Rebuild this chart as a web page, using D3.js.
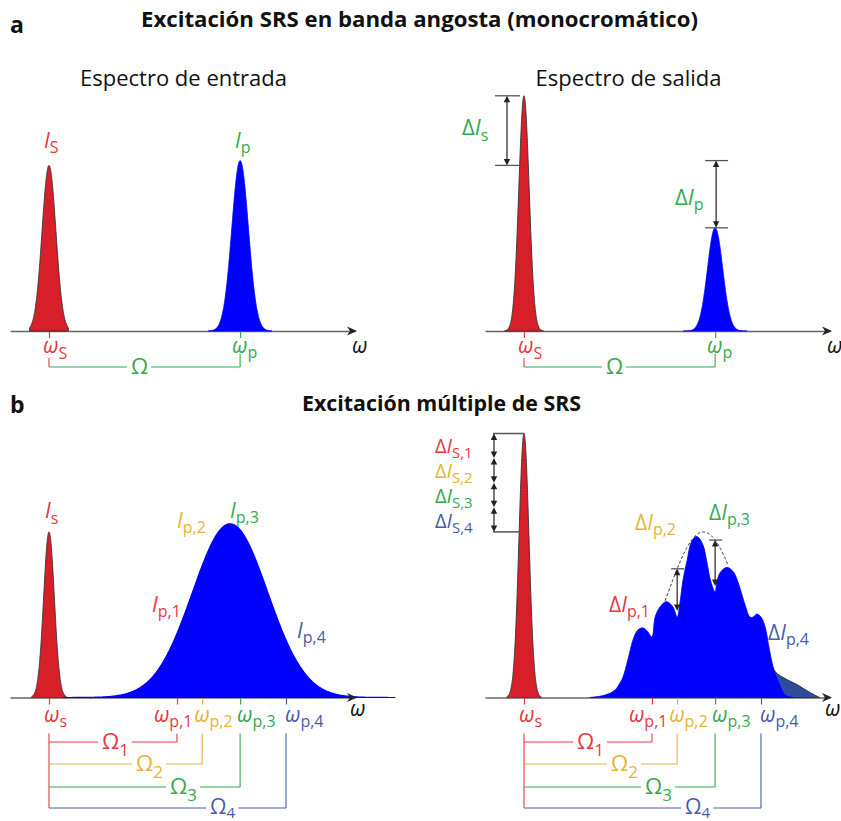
<!DOCTYPE html>
<html>
<head>
<meta charset="utf-8">
<script src="https://cdn.jsdelivr.net/npm/d3@7"></script>
<style>
  html, body { margin: 0; padding: 0; background: #fff; }
  svg { display: block; }
</style>
</head>
<body>
<svg id="fig" width="841" height="821"></svg>
<script>
// ---------------- data: frequency ω and intensity I in arbitrary units ----------------
// (a) narrowband, monochromatic excitation
const singleCenters       = [11.3, 66.7];   // ω_S, ω_p
const singleInputHeights  = [0.69, 0.71];   // I_S, I_p entering
const singleOutputHeights = [0.98, 0.43];   // I_S, I_p leaving
const singleInputWidths   = [2.0, 2.4];
const singleOutputWidths  = [1.5, 2.2];

// (b) multiple excitation by a broadband pump
const stokesOmega        = 11.3;
const multiStokesHeights = [0.69, 1.10];    // I_s entering, leaving
const multiStokesWidths  = [1.55, 1.45];
const pumpOmegas   = [48.4, 55.7, 66.7, 80.0];
const pumpSubs     = ["p,1", "p,2", "p,3", "p,4"];
const stokesSubs   = ["S,1", "S,2", "S,3", "S,4"];
const omegaSubs    = ["1", "2", "3", "4"];
const pumpBand     = [63.8, 0.724, 10.9];   // centre, peak, width of the broadband pump
const pumpEnvelope = [63.3, 0.69, 10.7];    // undepleted envelope (dashed)
const envelopeSpan = [52.2, 70.4];

// depleted pump spectrum leaving the sample
const depletedOmega = [30.4, 34.8, 37.7, 39.1, 40.0, 41.4, 42.9, 44.3, 45.8, 47.0, 48.4,
                       49.3, 50.7, 52.2, 53.0, 54.5, 55.7,
                       56.5, 57.4, 58.6, 59.7, 60.9, 61.7, 63.2, 64.3, 65.5, 66.7,
                       67.2, 68.1, 69.6, 70.7, 72.2, 73.6, 75.4, 76.8,
                       77.7, 78.8, 80.0, 81.2, 82.3, 83.5, 84.6, 85.8, 87.0, 89.3];
const depletedI     = [0, 0.010, 0.031, 0.060, 0.085, 0.156, 0.240, 0.281, 0.290, 0.277, 0.252,
                       0.335, 0.377, 0.398, 0.398, 0.377, 0.335,
                       0.394, 0.490, 0.573, 0.644, 0.669, 0.669, 0.635, 0.565, 0.481, 0.440,
                       0.481, 0.519, 0.540, 0.540, 0.519, 0.469, 0.385, 0.335,
                       0.335, 0.348, 0.335, 0.294, 0.210, 0.127, 0.081, 0.040, 0.010, 0];
// residual high-frequency wing of the pump
const residualOmega = [80.0, 82.5, 84.1, 87.5, 90.4, 94.2, 97.0];
const residualI     = [0.25, 0.16, 0.108, 0.075, 0.054, 0.021, 0];

// ---------------- styling ----------------
const FONT = "'Open Sans', 'Noto Sans', sans-serif";
const RED = "#e8363e", YELLOW = "#e6b335", GREEN = "#34a94c", BLUE = "#4a5aa8";
const pumpColors = [RED, YELLOW, GREEN, BLUE];
const STOKES_FILL = "#d61f29", PUMP_FILL = "#0000ff", WING_FILL = "#2f4b9b";
const INK = "#222";

const svg = d3.select("#fig");

function panelScales(x0, base) {
  return {
    x: d3.scaleLinear().domain([0, 100]).range([x0, x0 + 345]),
    y: d3.scaleLinear().domain([0, 1]).range([base, base - 240])
  };
}
const A1 = panelScales(10, 331), A2 = panelScales(485, 331);
const B1 = panelScales(10, 697.5), B2 = panelScales(485, 697.5);

const gauss = (c, h, s) => w => h * Math.exp(-((w - c) ** 2) / (2 * s * s));

function areaPath(s, curve) {
  return d3.area().x(d => s.x(d[0])).y0(s.y(0)).y1(d => s.y(d[1])).curve(curve || d3.curveLinear);
}
function peak(g, s, f, lo, hi, fill, stroke, sw) {
  const pts = d3.range(0, 301).map(i => { const w = lo + (hi - lo) * i / 300; return [w, f(w)]; });
  g.append("path").datum(pts).attr("d", areaPath(s))
    .attr("fill", fill).attr("stroke", stroke).attr("stroke-width", sw || 0.8).attr("stroke-linejoin", "round");
}

function baseAxis(g, s, ticks, colors) {
  const ax = g.append("g").attr("transform", `translate(0,${s.y(0)})`)
    .call(d3.axisBottom(s.x).tickValues(ticks).tickSize(7).tickSizeOuter(0).tickFormat(""));
  ax.select(".domain").attr("stroke", "#666").attr("stroke-width", 1.5);
  ax.selectAll(".tick line").attr("stroke", (d, i) => colors[i]).attr("stroke-width", 1.2);
}
function axisTip(g, s) {
  const xe = s.x(100) + 2, y0 = s.y(0);
  g.append("path").attr("d", `M${xe},${y0} L${xe - 10},${y0 - 4.5} L${xe - 7},${y0} L${xe - 10},${y0 + 4.5}Z`)
    .attr("fill", INK);
}

// symbol with optional subscript: parts = [[text, italic], ...]
function sym(g, x, y, parts, sub, color, o) {
  o = o || {};
  const t = g.append("text").attr("x", x).attr("y", y).attr("fill", color)
    .attr("font-family", FONT).attr("font-size", o.size || 21).attr("text-anchor", o.anchor || "start");
  parts.forEach(([str, it]) => t.append("tspan").attr("font-style", it ? "italic" : "normal").text(str));
  if (sub) t.append("tspan").attr("font-size", o.subSize || 16).attr("dy", o.subDy || 5).text(sub);
  return t;
}

function vline(g, x, y1, y2, color, w) {
  g.append("line").attr("x1", x).attr("x2", x).attr("y1", y1).attr("y2", y2)
    .attr("stroke", color).attr("stroke-width", w || 1.2);
}
function hline(g, x1, x2, y, color, w) {
  g.append("line").attr("x1", x1).attr("x2", x2).attr("y1", y).attr("y2", y)
    .attr("stroke", color).attr("stroke-width", w || 1.2);
}
// double-headed vertical arrow
function dArrow(g, x, yTop, yBot, color) {
  const c = color || INK, L = 6.5, W = 3.2;
  g.append("line").attr("x1", x).attr("x2", x).attr("y1", yTop + 3).attr("y2", yBot - 3)
    .attr("stroke", c).attr("stroke-width", 1.2);
  g.append("path").attr("d", `M${x},${yTop} L${x - W},${yTop + L} L${x + W},${yTop + L}Z`).attr("fill", c);
  g.append("path").attr("d", `M${x},${yBot} L${x - W},${yBot - L} L${x + W},${yBot - L}Z`).attr("fill", c);
}

// bracket line with a gap for its label
function gappedLine(g, x1, x2, y, color, label) {
  const b = label.node().getBBox();
  hline(g, x1, b.x - 4, y, color, 1.1);
  hline(g, b.x + b.width + 3, x2, y, color, 1.1);
}

// ---------------- titles ----------------
svg.append("text").attr("x", 10).attr("y", 33).attr("font-family", FONT).attr("font-weight", 700)
  .attr("font-size", 23).attr("fill", "#111").text("a");
svg.append("text").attr("x", 419.5).attr("y", 27).attr("text-anchor", "middle").attr("font-family", FONT)
  .attr("font-weight", 700).attr("font-size", 22).attr("fill", "#111")
  .attr("textLength", 557).attr("lengthAdjust", "spacingAndGlyphs")
  .text("Excitación SRS en banda angosta (monocromático)");
svg.append("text").attr("x", 10).attr("y", 413).attr("font-family", FONT).attr("font-weight", 700)
  .attr("font-size", 23).attr("fill", "#111").text("b");
svg.append("text").attr("x", 441.5).attr("y", 411).attr("text-anchor", "middle").attr("font-family", FONT)
  .attr("font-weight", 700).attr("font-size", 22).attr("fill", "#111")
  .attr("textLength", 279).attr("lengthAdjust", "spacingAndGlyphs")
  .text("Excitación múltiple de SRS");

// ---------------- (a) narrowband panels ----------------
function narrowPanel(s, heights, widths, title, titleX) {
  const g = svg.append("g");
  g.append("text").attr("x", titleX).attr("y", 86).attr("text-anchor", "middle").attr("font-family", FONT)
    .attr("font-size", 22).attr("fill", "#111").text(title);
  baseAxis(g, s, singleCenters, [RED, GREEN]);
  const [cs, cp] = singleCenters;
  peak(g, s, gauss(cs, heights[0], widths[0]), cs - 5.6, cs + 5.6, STOKES_FILL, "#333", 0.9);
  peak(g, s, gauss(cp, heights[1], widths[1]), cp - 9.2, cp + 9.2, PUMP_FILL, PUMP_FILL, 0.8);
  axisTip(g, s);
  const base = s.y(0);
  sym(g, s.x(cs) - 6, base + 22, [["ω", true]], "S", RED, { subDy: 6 });
  sym(g, s.x(cp) - 8, base + 22, [["ω", true]], "p", GREEN, { subDy: 5 });
  sym(g, s.x(100) - 3, base + 22, [["ω", true]], null, "#111");
  // Ω bracket
  const yB = base + 36;
  vline(g, s.x(cs), base + 27, yB, RED, 1.1);
  vline(g, s.x(cp), base + 23, yB, GREEN, 1.1);
  const om = sym(g, (s.x(cs) + s.x(cp)) / 2 - 5, yB + 6.5, [["Ω", false]], null, GREEN, { anchor: "middle", size: 22 });
  gappedLine(g, s.x(cs), s.x(cp), yB, GREEN, om);
  return g;
}

const gA1 = narrowPanel(A1, singleInputHeights, singleInputWidths, "Espectro de entrada", 183.5);
sym(gA1, A1.x(singleCenters[0]) - 5, A1.y(0) - 183, [["I", true]], "S", RED, { subDy: 5 });
sym(gA1, A1.x(singleCenters[1]) - 5, A1.y(0) - 183, [["I", true]], "p", GREEN, { subDy: 5 });

const gA2 = narrowPanel(A2, singleOutputHeights, singleOutputWidths, "Espectro de salida", 628.5);
{
  const xs = A2.x(singleCenters[0]) - 17, xp = A2.x(singleCenters[1]) + 1;
  const sTop = A2.y(singleOutputHeights[0]), sBot = A2.y(singleInputHeights[0]);
  const pTop = A2.y(singleInputHeights[1]), pBot = A2.y(singleOutputHeights[1]);
  hline(gA2, xs - 12, xs + 13, sTop, "#555", 1.3);
  hline(gA2, xs - 12, xs + 13, sBot, "#555", 1.3);
  dArrow(gA2, xs, sTop, sBot);
  hline(gA2, xp - 11, xp + 12, pTop, "#555", 1.3);
  hline(gA2, xp - 11, xp + 12, pBot, "#555", 1.3);
  dArrow(gA2, xp, pTop, pBot);
  sym(gA2, xs - 45, (sTop + sBot) / 2 + 4, [["Δ", false], ["I", true]], "s", GREEN, { size: 22, subDy: 6 });
  sym(gA2, xp - 41, (pTop + pBot) / 2 + 11, [["Δ", false], ["I", true]], "p", GREEN, { size: 22, subDy: 5 });
}

// ---------------- (b) broadband panels ----------------
function bracketsB(g, s) {
  const base = s.y(0), xs = s.x(stokesOmega);
  const lines = [44.5, 66.5, 89.5, 110.5].map(d => base + d);
  const starts = [53, 87, 121, 161];
  vline(g, xs, base + 36, lines[3], RED, 1.1);
  pumpOmegas.forEach((w, i) => {
    const xp = s.x(w);
    vline(g, xp, base + 36, lines[i], pumpColors[i], 1.1);
    const last = i === 3;
    const lab = sym(g, xs + starts[i], lines[i] + (last ? 6 : 7), [["Ω", false]], omegaSubs[i], pumpColors[i],
      { size: last ? 21 : 22, subSize: last ? 15 : 17, subDy: last ? 4 : 7 });
    gappedLine(g, xs, xp, lines[i], pumpColors[i], lab);
  });
}
function tickLabelsB(g, s) {
  const base = s.y(0);
  sym(g, s.x(stokesOmega) - 5, base + 24.5, [["ω", true]], "s", RED, { subDy: 5 });
  const offs = [-23, -8, -3, -1];
  pumpOmegas.forEach((w, i) => sym(g, s.x(w) + offs[i], base + 24.5, [["ω", true]], pumpSubs[i], pumpColors[i], { subDy: 5 }));
  sym(g, s.x(100) - 5, base + 18.5, [["ω", true]], null, "#111");
}

// input spectrum
const gB1 = svg.append("g");
baseAxis(gB1, B1, [stokesOmega, ...pumpOmegas], [RED, ...pumpColors]);
peak(gB1, B1, gauss(stokesOmega, multiStokesHeights[0], multiStokesWidths[0]), stokesOmega - 5, stokesOmega + 5, STOKES_FILL, "#333", 0.9);
peak(gB1, B1, gauss(pumpBand[0], pumpBand[1], pumpBand[2]), 15.4, 111.6, PUMP_FILL, PUMP_FILL, 1.2);
axisTip(gB1, B1);
tickLabelsB(gB1, B1);
bracketsB(gB1, B1);
sym(gB1, 45, 518, [["I", true]], "s", RED, { subDy: 6 });
sym(gB1, 152, 612, [["I", true]], pumpSubs[0], RED, { subDy: 5 });
sym(gB1, 177, 528, [["I", true]], pumpSubs[1], YELLOW, { subDy: 5 });
sym(gB1, 230, 518, [["I", true]], pumpSubs[2], GREEN, { subDy: 5 });
sym(gB1, 297, 638, [["I", true]], pumpSubs[3], BLUE, { subDy: 5 });

// output spectrum
const gB2 = svg.append("g");
baseAxis(gB2, B2, [stokesOmega, ...pumpOmegas], [RED, ...pumpColors]);
peak(gB2, B2, gauss(stokesOmega, multiStokesHeights[1], multiStokesWidths[1]), stokesOmega - 5, stokesOmega + 5, STOKES_FILL, "#333", 0.9);
const wing = residualOmega.map((w, i) => [w, residualI[i]]);
gB2.append("path").datum(wing).attr("d", areaPath(B2, d3.curveCatmullRom))
  .attr("fill", WING_FILL).attr("stroke", "#222").attr("stroke-width", 0.8);
const depleted = depletedOmega.map((w, i) => [w, depletedI[i]]);
gB2.append("path").datum(depleted).attr("d", areaPath(B2, d3.curveCatmullRom.alpha(0.5)))
  .attr("fill", PUMP_FILL).attr("stroke", PUMP_FILL).attr("stroke-width", 0.8);
// undepleted envelope
{
  const env = gauss(...pumpEnvelope);
  const pts = d3.range(0, 101).map(i => { const w = envelopeSpan[0] + (envelopeSpan[1] - envelopeSpan[0]) * i / 100; return [w, env(w)]; });
  gB2.append("path").datum(pts).attr("d", d3.line().x(d => B2.x(d[0])).y(d => B2.y(d[1])))
    .attr("fill", "none").attr("stroke", "#333").attr("stroke-width", 1).attr("stroke-dasharray", "3,2");
  // depletion arrows at ω_p,2 and ω_p,3
  [1, 2].forEach(i => {
    const w = pumpOmegas[i], xp = B2.x(w);
    const top = B2.y(env(w));
    const dip = B2.y(depletedI[depletedOmega.indexOf(w)]) - 6;
    hline(gB2, xp - 6, xp + 7, top, "#444", 1.2);
    dArrow(gB2, xp, top, dip);
  });
}
axisTip(gB2, B2);
tickLabelsB(gB2, B2);
bracketsB(gB2, B2);
// Stokes gain chain
{
  const xs = B2.x(stokesOmega), xa = xs - 30;
  const top = B2.y(multiStokesHeights[1]), bot = B2.y(multiStokesHeights[0]);
  hline(gB2, xa - 1, xs, top, "#555", 1.5);
  hline(gB2, xa - 1, xs - 4, bot, "#555", 1.5);
  const step = (bot - top) / 4;
  const colors = [RED, YELLOW, GREEN, BLUE];
  for (let k = 0; k < 4; k++) {
    dArrow(gB2, xa, top + k * step, top + (k + 1) * step);
    sym(gB2, 435, 453 + k * 25, [["Δ", false], ["I", true]], stokesSubs[k], colors[k], { size: 20, subSize: 15, subDy: 5 });
  }
}
sym(gB2, 609, 612, [["Δ", false], ["I", true]], pumpSubs[0], RED, { subDy: 5 });
sym(gB2, 635, 530, [["Δ", false], ["I", true]], pumpSubs[1], YELLOW, { subDy: 5 });
sym(gB2, 709, 520, [["Δ", false], ["I", true]], pumpSubs[2], GREEN, { subDy: 5 });
sym(gB2, 768, 640, [["Δ", false], ["I", true]], pumpSubs[3], BLUE, { subDy: 5 });
</script>
</body>
</html>
